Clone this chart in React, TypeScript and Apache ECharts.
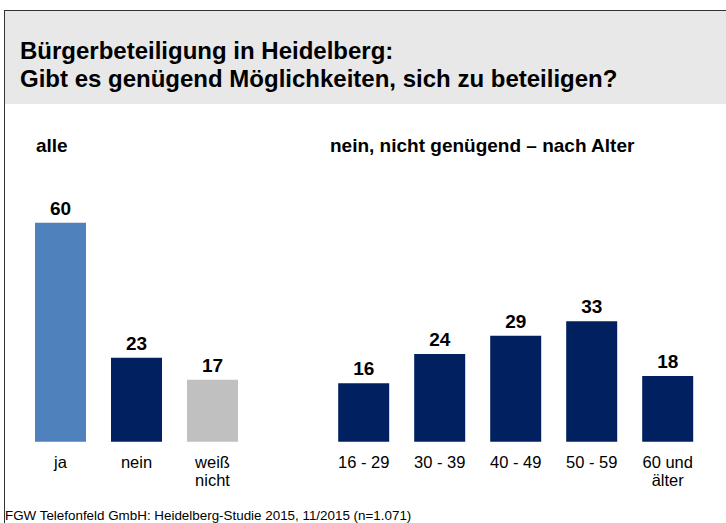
import React, { useEffect, useRef } from "react";
import * as echarts from "echarts";

const titleLines = [
  "Bürgerbeteiligung in Heidelberg:",
  "Gibt es genügend Möglichkeiten, sich zu beteiligen?",
];
const leftHeading = "alle";
const rightHeading = "nein, nicht genügend – nach Alter";
const footerText = "FGW Telefonfeld GmbH: Heidelberg-Studie 2015, 11/2015 (n=1.071)";

const allCategories = ["ja", "nein", "weiß\nnicht"];
const allValues = [60, 23, 17];
const ageCategories = ["16 - 29", "30 - 39", "40 - 49", "50 - 59", "60 und\nälter"];
const ageValues = [16, 24, 29, 33, 18];

const FONT = "'Liberation Sans', Arial, Helvetica, sans-serif";
const allColors = ["#4F81BD", "#002060", "#C0C0C0"];
const navy = "#002060";

export default function App() {
  const ref = useRef<HTMLDivElement>(null);
  useEffect(() => {
    if (!ref.current) return;
    const chart = echarts.init(ref.current, null, { renderer: "svg" });
    const label = {
      show: true,
      position: "top" as const,
      distance: 5,
      color: "#000",
      fontSize: 19,
      fontWeight: "bold" as const,
      fontFamily: FONT,
    };
    const axisLabel = {
      color: "#000",
      fontSize: 16.5,
      fontFamily: FONT,
      lineHeight: 18.5,
      margin: 11,
      interval: 0,
      verticalAlign: "top" as const,
    };
    chart.setOption({
      animation: false,
      backgroundColor: "#fff",
      textStyle: { fontFamily: FONT },
      graphic: [
        { type: "rect", shape: { x: 5, y: 10, width: 721, height: 94 }, style: { fill: "#E8E8E8" }, silent: true },
        { type: "line", shape: { x1: 4.5, y1: 10.5, x2: 726, y2: 10.5 }, style: { stroke: "#333", lineWidth: 1 } },
        { type: "line", shape: { x1: 4.5, y1: 10, x2: 4.5, y2: 523 }, style: { stroke: "#333", lineWidth: 1 } },
        {
          type: "text",
          x: 20,
          y: 36,
          style: {
            text: titleLines.join("\n"),
            font: `bold 24px ${FONT}`,
            lineHeight: 28,
            fill: "#000",
            verticalAlign: "top",
          },
        },
        {
          type: "text",
          x: 36,
          y: 145,
          style: { text: leftHeading, font: `bold 19px ${FONT}`, fill: "#000", verticalAlign: "middle" },
        },
        {
          type: "text",
          x: 330,
          y: 145,
          style: { text: rightHeading, font: `bold 19px ${FONT}`, fill: "#000", verticalAlign: "middle" },
        },
        {
          type: "text",
          x: 5,
          y: 515,
          style: { text: footerText, font: `13.4px ${FONT}`, fill: "#000", verticalAlign: "middle" },
        },
      ],
      grid: [
        { left: 22.5, top: 222.7, width: 228, height: 219, containLabel: false },
        { left: 325.7, top: 222.7, width: 380, height: 219, containLabel: false },
      ],
      xAxis: [
        {
          type: "category",
          gridIndex: 0,
          data: allCategories,
          axisLine: { show: false },
          axisTick: { show: false },
          axisLabel,
        },
        {
          type: "category",
          gridIndex: 1,
          data: ageCategories,
          axisLine: { show: false },
          axisTick: { show: false },
          axisLabel,
        },
      ],
      yAxis: [
        { type: "value", gridIndex: 0, min: 0, max: 60, show: false },
        { type: "value", gridIndex: 1, min: 0, max: 60, show: false },
      ],
      series: [
        {
          type: "bar",
          xAxisIndex: 0,
          yAxisIndex: 0,
          barWidth: 51,
          label,
          data: allValues.map((v, i) => ({ value: v, itemStyle: { color: allColors[i] } })),
        },
        {
          type: "bar",
          xAxisIndex: 1,
          yAxisIndex: 1,
          barWidth: 51,
          label,
          itemStyle: { color: navy },
          data: ageValues,
        },
      ],
    });
    return () => chart.dispose();
  }, []);
  return (
    <div
      ref={ref}
      style={{ position: "absolute", left: 0, top: 0, width: 726, height: 523 }}
    />
  );
}
